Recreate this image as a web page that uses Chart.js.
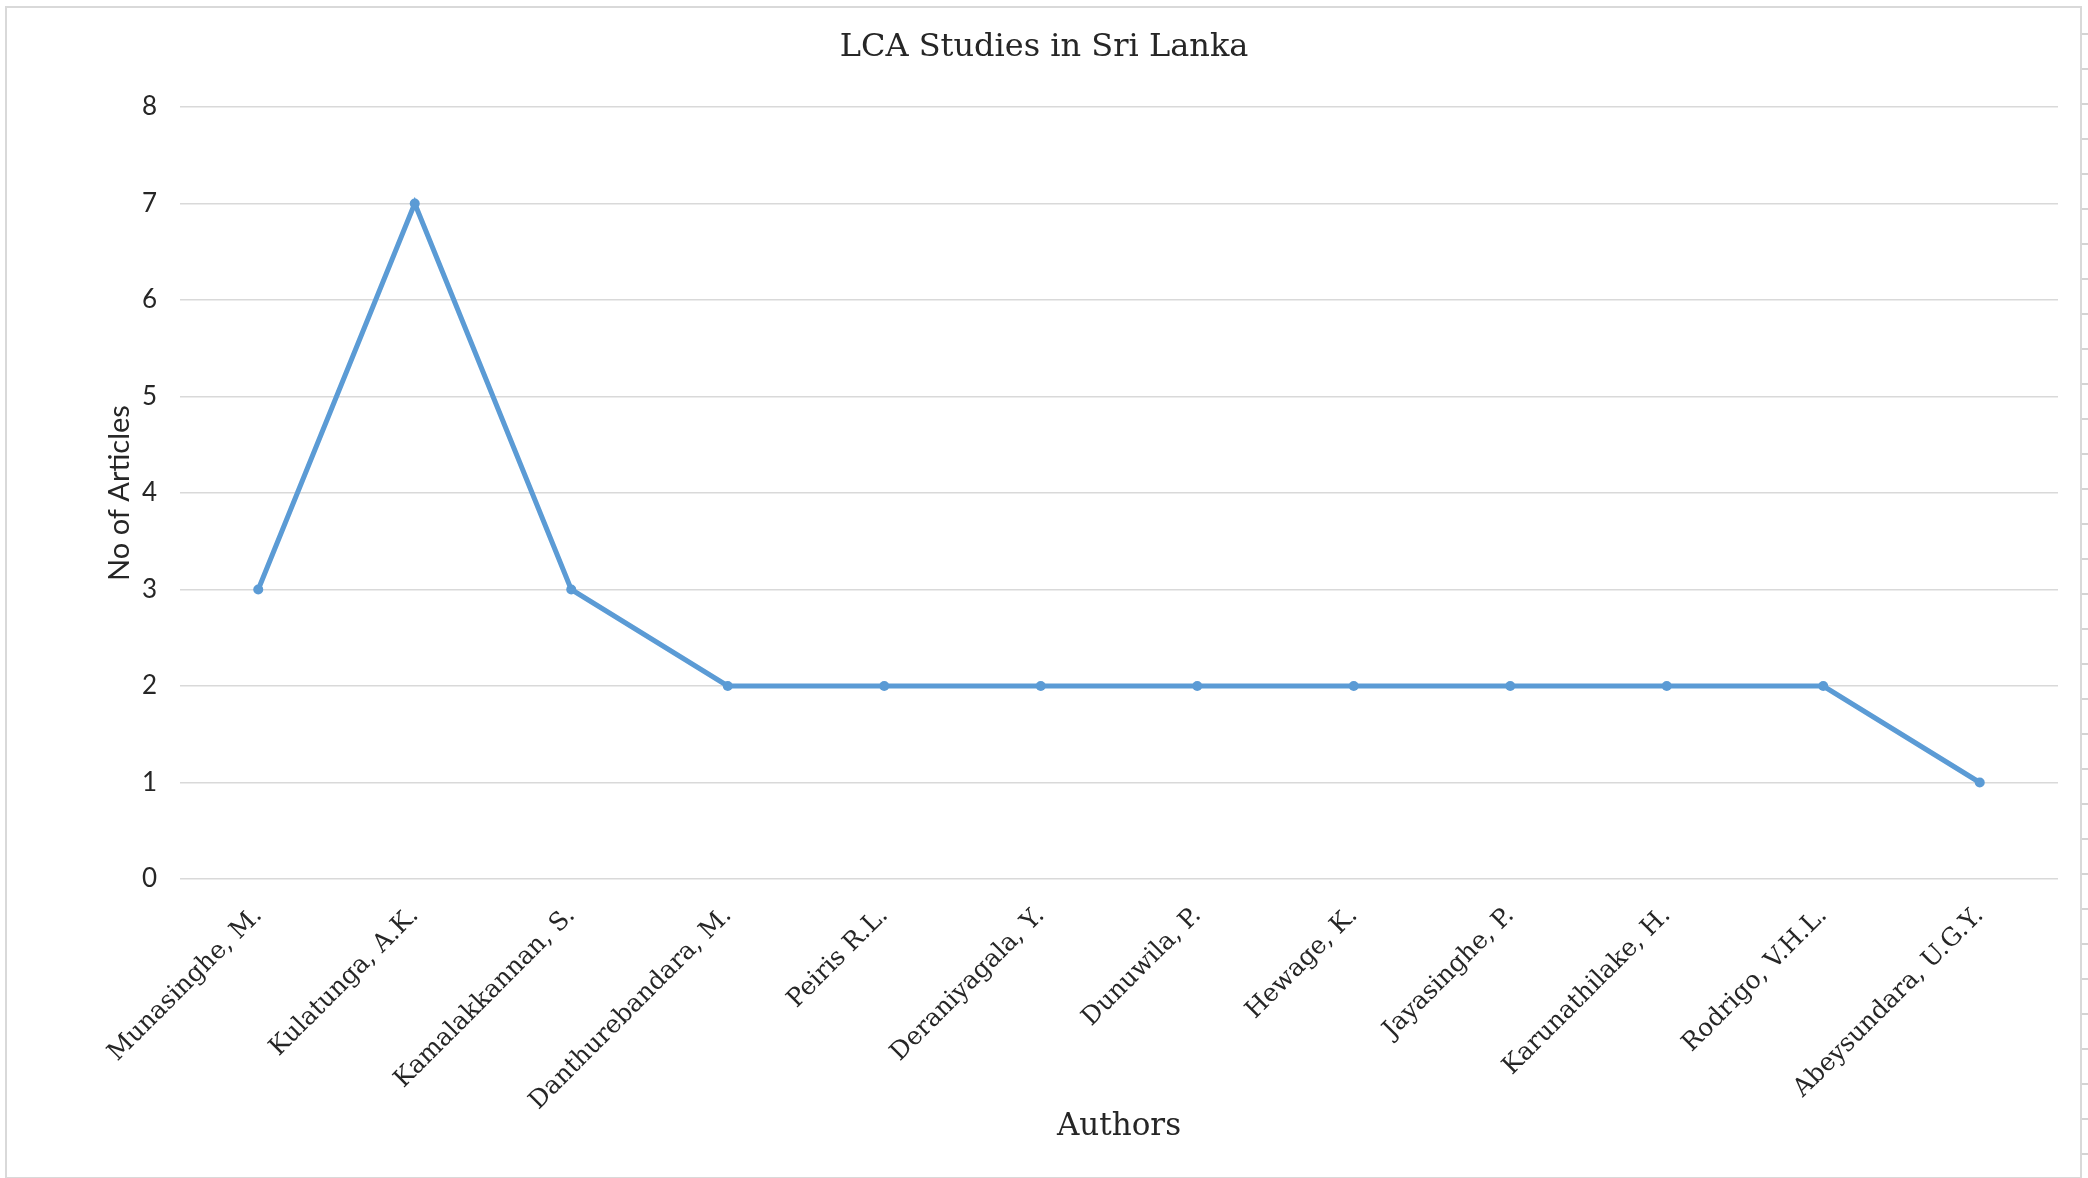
<!DOCTYPE html>
<html>
<head>
<meta charset="utf-8">
<script src="https://cdn.jsdelivr.net/npm/chart.js@4.4.1/dist/chart.umd.min.js"></script>
<style>
  html, body { margin: 0; padding: 0; background: #fff; }
  #wrap { position: relative; width: 2088px; height: 1178px; overflow: hidden; }
  #frame { position: absolute; left: 5px; top: 6px; width: 2073px; height: 1169px; border: 2px solid #d9d9d9; pointer-events: none; }
  #cells { position: absolute; left: 2082px; top: 0; width: 6px; height: 1178px;
    background: repeating-linear-gradient(to bottom, #fff 0px, #fff 33px, #d4d4d4 33px, #d4d4d4 35px); }
</style>
</head>
<body>
<div id="wrap">
  <canvas class="chart" width="2088" height="1178"></canvas>
  <div id="frame"></div>
  <div id="cells"></div>
</div>
<script>
const authors = [
  'Munasinghe, M.',
  'Kulatunga, A.K.',
  'Kamalakkannan, S.',
  'Danthurebandara, M.',
  'Peiris R.L.',
  'Deraniyagala, Y.',
  'Dunuwila, P.',
  'Hewage, K.',
  'Jayasinghe, P.',
  'Karunathilake, H.',
  'Rodrigo, V.H.L.',
  'Abeysundara, U.G.Y.'
];
const articles = [3, 7, 3, 2, 2, 2, 2, 2, 2, 2, 2, 1];
const yTicks = [0, 1, 2, 3, 4, 5, 6, 7, 8];

const serif = "'DejaVu Serif', 'Liberation Serif', serif";
const sans = "Lato, 'Liberation Sans', sans-serif";

const canvas = document.querySelector(".chart");

const data = {
  labels: authors,
  datasets: [{
    label: 'No of Articles',
    data: articles,
    borderColor: '#5B9BD5',
    backgroundColor: '#5B9BD5',
    borderWidth: 5,
    pointRadius: 5,
    pointBorderWidth: 0,
    pointBackgroundColor: '#5B9BD5',
    tension: 0,
    fill: false
  }]
};

const config = {
  type: 'line',
  data: data,
  options: {
    responsive: false,
    animation: false,
    layout: {
      padding: { left: 30, right: 30, top: 0, bottom: 0 }
    },
    plugins: {
      legend: { display: false },
      tooltip: { enabled: false },
      title: {
        display: true,
        text: 'LCA Studies in Sri Lanka',
        color: '#262626',
        font: { family: serif, size: 32, weight: 'normal' },
        padding: { top: 28.8, bottom: 39.8 }
      }
    },
    scales: {
      x: {
        offset: true,
        grid: { display: false, drawTicks: false },
        border: { display: false },
        ticks: {
          autoSkip: false,
          minRotation: 45,
          maxRotation: 45,
          padding: 22,
          color: '#262626',
          font: { family: serif, size: 25 }
        },
        title: {
          display: true,
          text: 'Authors',
          color: '#262626',
          font: { family: serif, size: 31 },
          padding: { top: 0, bottom: 32 }
        },
        afterFit: (scale) => { scale.height = 299; }
      },
      y: {
        min: 0,
        max: 8,
        afterBuildTicks: (scale) => { scale.ticks = yTicks.map(v => ({ value: v })); },
        grid: { color: '#d9d9d9', lineWidth: 1.5, drawTicks: false },
        border: { display: false },
        ticks: {
          padding: 23,
          color: '#262626',
          font: { family: sans, size: 26 }
        },
        title: {
          display: true,
          text: 'No of Articles',
          color: '#262626',
          font: { family: sans, size: 29 },
          padding: { top: 72, bottom: 0 }
        },
        afterFit: (scale) => { scale.width = 150; }
      }
    }
  }
};

new Chart(canvas, config);
</script>
</body>
</html>
